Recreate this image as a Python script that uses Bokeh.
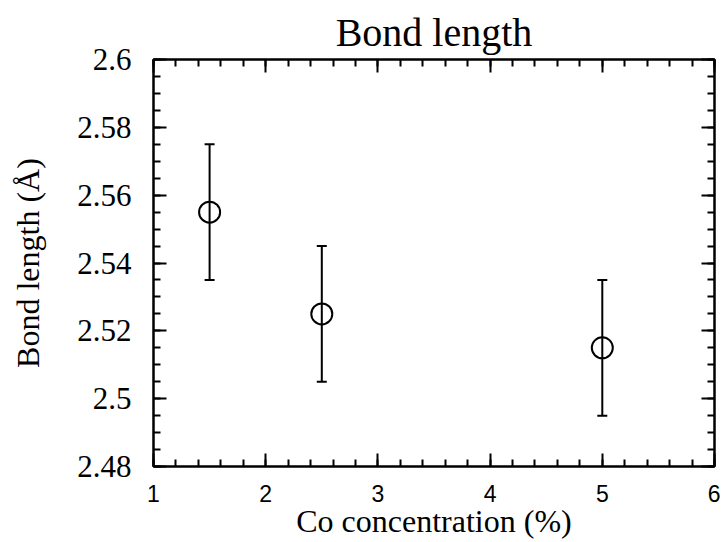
from bokeh.plotting import figure
from bokeh.models import (Range1d, LinearAxis, FixedTicker, Whisker,
                          ColumnDataSource, TeeHead)
from bokeh.embed import file_html
from bokeh.resources import INLINE
import numpy as np

# ---- data ----
conc = [1.5, 2.5, 5.0]
bond = [2.555, 2.525, 2.515]
err = [0.02, 0.02, 0.02]

x_ticks = [1, 2, 3, 4, 5, 6]
x_tick_labels = ["1", "2", "3", "4", "5", "6"]
y_ticks = [2.48, 2.5, 2.52, 2.54, 2.56, 2.58, 2.6]
y_tick_labels = ["2.48", "2.5", "2.52", "2.54", "2.56", "2.58", "2.6"]

title_text = "Bond length"
x_label = "Co concentration (%)"
y_label = "Bond length (Å)"

SERIF = "Liberation Serif"
SANS = "Liberation Sans"

src = ColumnDataSource(dict(
    x=conc, y=bond,
    upper=[b + e for b, e in zip(bond, err)],
    lower=[b - e for b, e in zip(bond, err)],
))

p = figure(width=720, height=542, output_backend="svg", toolbar_location=None,
           x_range=Range1d(1, 6), y_range=Range1d(2.48, 2.6),
           x_axis_location=None, y_axis_location=None,
           min_border_left=153, min_border_right=6, min_border_top=59,
           min_border_bottom=76)

p.title.text = title_text
p.title.align = "center"
p.title.text_font = SERIF
p.title.text_font_size = "40px"
p.title.text_font_style = "normal"
p.title.text_color = "black"
p.title.standoff = 10

p.xgrid.grid_line_color = None
p.ygrid.grid_line_color = None
p.outline_line_color = "black"
p.outline_line_width = 2
p.background_fill_color = "white"
p.border_fill_color = "white"

x_minor = [round(v, 3) for v in np.arange(1, 6.001, 0.2)]
y_minor = [round(v, 4) for v in np.arange(2.48, 2.6001, 0.005)]


def style_axis(ax, ticks, minor, labels, show):
    ax.ticker = FixedTicker(ticks=ticks, minor_ticks=minor)
    ax.major_tick_in = 13
    ax.major_tick_out = 0
    ax.minor_tick_in = 7
    ax.minor_tick_out = 0
    ax.major_tick_line_width = 2
    ax.minor_tick_line_width = 2
    ax.axis_line_width = 2
    ax.axis_line_color = "black"
    ax.major_tick_line_color = "black"
    ax.minor_tick_line_color = "black"
    if show:
        ax.major_label_overrides = {t: l for t, l in zip(ticks, labels)}
    else:
        ax.major_label_text_font_size = "1px"
        ax.major_label_text_color = None
        ax.major_label_standoff = 0
        ax.axis_label = None


xb = LinearAxis(axis_label=x_label)
style_axis(xb, x_ticks, x_minor, x_tick_labels, True)
xb.major_label_text_font = SANS
xb.major_label_text_font_size = "23px"
xb.major_label_text_color = "black"
xb.major_label_standoff = 18
xb.axis_label_text_font = SERIF
xb.axis_label_text_font_size = "32px"
xb.axis_label_text_font_style = "normal"
xb.axis_label_text_color = "black"
xb.axis_label_standoff = -2
p.add_layout(xb, "below")

yl = LinearAxis(axis_label=y_label)
style_axis(yl, y_ticks, y_minor, y_tick_labels, True)
yl.major_label_text_font = SERIF
yl.major_label_text_font_size = "31px"
yl.major_label_text_color = "black"
yl.major_label_standoff = 22
yl.axis_label_text_font = SERIF
yl.axis_label_text_font_size = "32px"
yl.axis_label_text_font_style = "normal"
yl.axis_label_text_color = "black"
yl.axis_label_standoff = 28
p.add_layout(yl, "left")

xt = LinearAxis()
style_axis(xt, x_ticks, x_minor, x_tick_labels, False)
p.add_layout(xt, "above")

yr = LinearAxis()
style_axis(yr, y_ticks, y_minor, y_tick_labels, False)
p.add_layout(yr, "right")

p.add_layout(Whisker(base="x", upper="upper", lower="lower", source=src,
                     line_width=2, line_color="black",
                     upper_head=TeeHead(size=10, line_width=2, line_color="black"),
                     lower_head=TeeHead(size=10, line_width=2, line_color="black")))

p.scatter("x", "y", source=src, marker="circle", size=21,
          fill_color=None, line_color="black", line_width=2)

open("out.html", "w").write(file_html(p, INLINE))
